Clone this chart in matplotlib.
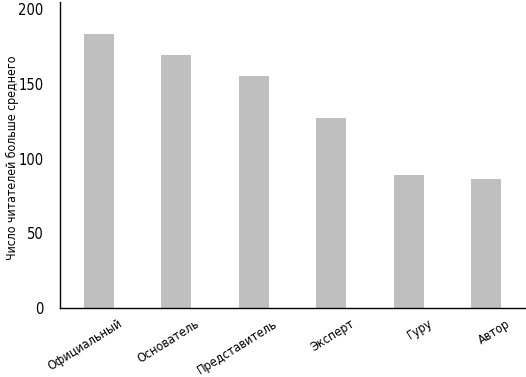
import matplotlib
matplotlib.use("Agg")
import matplotlib.pyplot as plt

categories = ["Официальный", "Основатель", "Представитель", "Эксперт", "Гуру", "Автор"]
values = [183, 169, 155, 127, 89, 86]
yticks = [0, 50, 100, 150, 200]

plt.rcParams['font.family'] = ['DejaVu Sans']
plt.rcParams['font.stretch'] = 'condensed'

fig = plt.figure(figsize=(5.26, 3.77), dpi=100)
ax = fig.add_axes([60/526, 1 - 308/377, 465/526, 306/377])

x = list(range(len(categories)))
ax.bar(x, values, width=0.39, color="#bfbfbf")

ax.set_xlim(-0.5, len(categories) - 0.5)
ax.set_ylim(0, 204.7)
ax.set_yticks(yticks)
ax.set_yticklabels([str(v) for v in yticks], fontsize=10.5)
ax.set_xticks(x)
ax.set_xticklabels([])

# category labels, rotated, right end a little past the bar centre
for i, cat in zip(x, categories):
    ax.annotate(cat, xy=(i, 0), xycoords=("data", "axes fraction"),
                xytext=(19, -9), textcoords="offset pixels",
                rotation=32, ha="right", va="top", rotation_mode="anchor",
                fontsize=9)

ax.tick_params(axis="both", length=0)
ax.tick_params(axis="y", pad=12)
for s in ["top", "right"]:
    ax.spines[s].set_visible(False)
ax.spines["left"].set_linewidth(1.0)
ax.spines["bottom"].set_linewidth(1.0)

fig.text(12/526, 1 - 158/377, "Число читателей больше среднего", fontsize=8.8,
         rotation=90, ha="center", va="center")

plt.savefig("out.png", dpi=100)
